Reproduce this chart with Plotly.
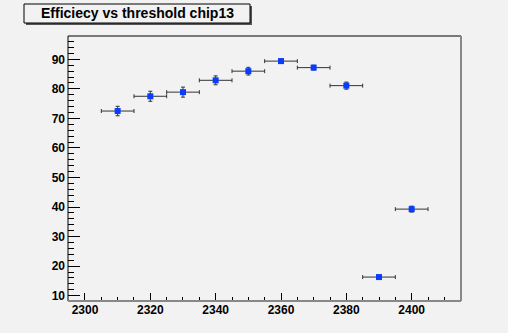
import plotly.graph_objects as go

# Efficiency scan versus threshold for chip 13
threshold = [2310, 2320, 2330, 2340, 2350, 2360, 2370, 2380, 2390, 2400]
threshold_err = [5, 5, 5, 5, 5, 5, 5, 5, 5, 5]
efficiency = [72.5, 77.5, 78.9, 82.9, 86.0, 89.4, 87.2, 81.1, 16.3, 39.3]
efficiency_err = [1.6, 1.7, 1.7, 1.5, 1.3, 0.7, 0.8, 1.2, 0.5, 1.0]

W, H = 508, 333
L, R, T, B = 68, 461, 36, 301
BG = "#f2f2f2"


def px(x):
    return (x - L) / (R - L)


def py(y):
    return (B - y) / (B - T)


fig = go.Figure()
fig.add_trace(go.Scatter(
    x=threshold, y=efficiency, mode="markers",
    marker=dict(symbol="square", size=6, color="#0a3cff",
                line=dict(width=0)),
    error_x=dict(type="data", array=threshold_err, color="#333333",
                 thickness=1, width=2),
    error_y=dict(type="data", array=efficiency_err, color="#333333",
                 thickness=1, width=2),
    showlegend=False,
))

tickfont = dict(family="Liberation Sans", size=12, color="black", weight="bold")

fig.update_layout(
    width=W, height=H,
    margin=dict(l=L, r=W - R, t=T, b=H - B),
    paper_bgcolor=BG, plot_bgcolor=BG,
    xaxis=dict(range=[2294.8, 2415.1], showgrid=False, zeroline=False,
               tick0=2300, dtick=20, ticks="inside", ticklen=8,
               tickcolor="black", tickwidth=1, tickfont=tickfont,
               minor=dict(dtick=5, ticks="inside", ticklen=4,
                          tickcolor="black", showgrid=False),
               showline=False),
    yaxis=dict(range=[8.2, 97.9], showgrid=False, zeroline=False,
               tick0=0, dtick=10, ticks="inside", ticklen=12,
               tickcolor="black", tickwidth=1, tickfont=tickfont,
               minor=dict(dtick=2, ticks="inside", ticklen=6,
                          tickcolor="black", showgrid=False),
               showline=False, ticklabelstandoff=2),
)

shapes = [
    # frame
    dict(type="line", xref="paper", yref="paper", x0=0, x1=1, y0=1, y1=1,
         line=dict(color="black", width=1)),
    dict(type="line", xref="paper", yref="paper", x0=0, x1=0, y0=0, y1=1,
         line=dict(color="black", width=1)),
    dict(type="line", xref="paper", yref="paper", x0=1, x1=1, y0=0, y1=1,
         line=dict(color="#888888", width=2)),
    dict(type="line", xref="paper", yref="paper", x0=0, x1=1, y0=0, y1=0,
         line=dict(color="#888888", width=2)),
    # title box shadow and box
    dict(type="rect", xref="paper", yref="paper",
         x0=px(26), x1=px(252), y0=py(25), y1=py(6),
         line=dict(width=0), fillcolor="#555555", layer="above"),
    dict(type="rect", xref="paper", yref="paper",
         x0=px(24), x1=px(250), y0=py(23), y1=py(4),
         line=dict(color="black", width=1), fillcolor=BG, layer="above"),
]
fig.update_layout(shapes=shapes)

fig.add_annotation(
    text="Efficiecy vs threshold chip13", xref="paper", yref="paper",
    x=px(137), y=py(13.5), xanchor="center", yanchor="middle",
    showarrow=False,
    font=dict(family="Liberation Sans", size=14, color="black", weight="bold"),
)

fig.write_html("out.html")
